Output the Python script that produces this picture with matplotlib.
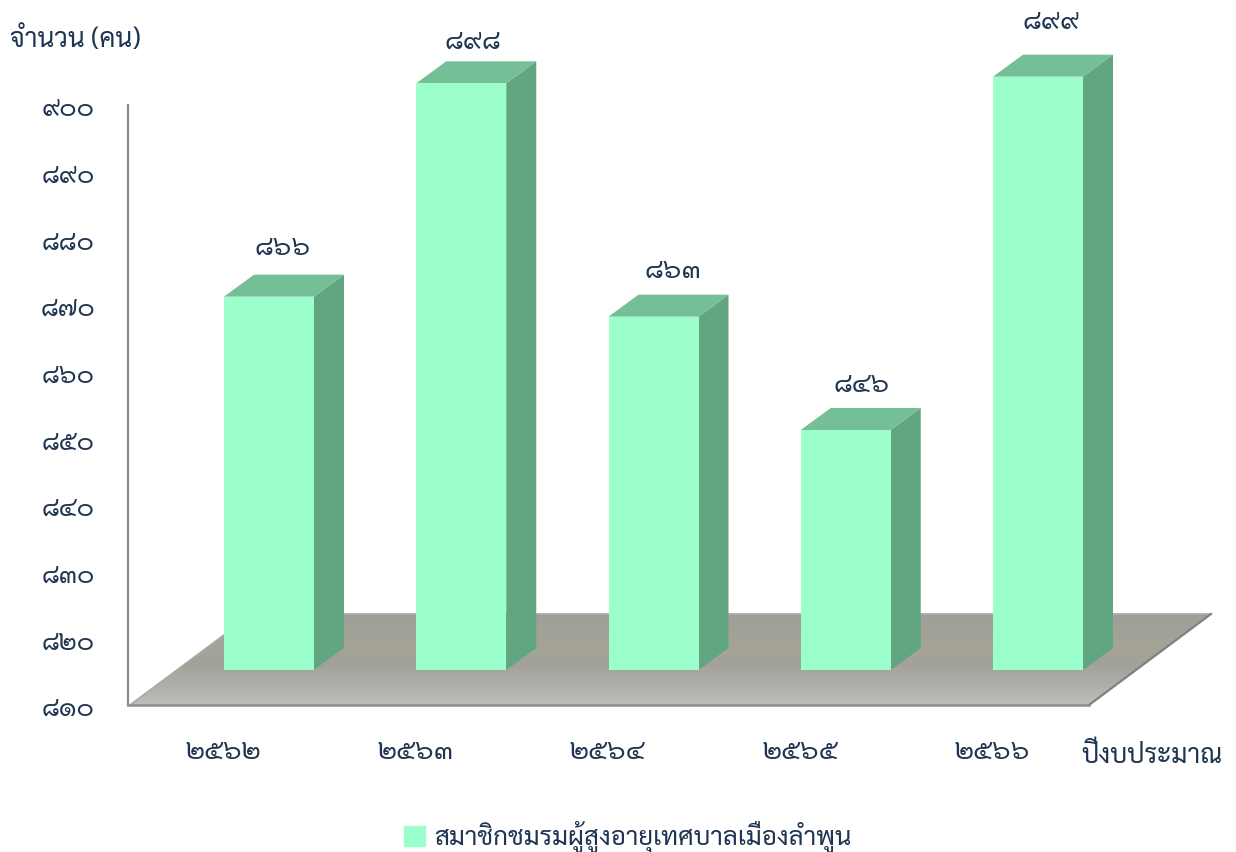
import numpy as np
import matplotlib
matplotlib.use('Agg')
import matplotlib.pyplot as plt
from matplotlib.patches import Polygon, Patch
from matplotlib import transforms

# ---- data ----
categories = ['๒๕๖๒', '๒๕๖๓', '๒๕๖๔', '๒๕๖๕', '๒๕๖๖']
members = [866, 898, 863, 846, 899]
member_labels = ['๘๖๖', '๘๙๘', '๘๖๓', '๘๔๖', '๘๙๙']
y_ticks = [810, 820, 830, 840, 850, 860, 870, 880, 890, 900]
y_tick_labels = ['๘๑๐', '๘๒๐', '๘๓๐', '๘๔๐', '๘๕๐', '๘๖๐', '๘๗๐', '๘๘๐', '๘๙๐', '๙๐๐']
series_name = 'สมาชิกชมรมผู้สูงอายุเทศบาลเมืองลำพูน'
y_title = 'จำนวน (คน)'
x_title = 'ปีงบประมาณ'

# ---- style ----
W, H = 1236, 852
FONT = ['Sarabun', 'DejaVu Sans']
TXT = '#1f3552'
FRONT, TOP, SIDE = '#9BFFCB', '#74BF98', '#62A581'
plt.rcParams['font.family'] = FONT

fig = plt.figure(figsize=(W / 100, H / 100), dpi=100, facecolor='white')
L, R, T, B = 128, 1089, 105, 705
ax = fig.add_axes([L / W, 1 - B / H, (R - L) / W, (B - T) / H])
ax.set_facecolor('none')
pitch = 192.25
first = 269
ax.set_xlim((L - first) / pitch, (R - first) / pitch)
ax.set_ylim(810, 900)
ppu = (B - T) / 90


def px_x(p):
    return p / pitch


def px_y(p):
    return p / ppu


def shift_px(dx, dy):
    return transforms.ScaledTranslation(dx / fig.dpi, dy / fig.dpi, fig.dpi_scale_trans)


# floor
fdx, fdy = px_x(122), px_y(91)
x0, x1 = ax.get_xlim()
floor_pts = [(x0 + px_x(2), 810), (x1, 810), (x1 + fdx, 810 + fdy), (x0 + px_x(124), 810 + fdy)]
XX, YY = np.meshgrid(np.linspace(0, 1, 200), np.linspace(0, 1, 80))
base = 0.62 + 0.12 * np.clip((0.45 - YY) / 0.45, 0, 1)
rgb = np.dstack([base, base, base - 0.015])
tan = np.exp(-((YY - 0.62) / 0.28) ** 2)
rgb[..., 0] += 0.025 * tan
rgb[..., 1] += 0.02 * tan
rgb[..., 2] -= 0.01 * tan
im = ax.imshow(np.clip(rgb, 0, 1), origin='lower', aspect='auto', zorder=1,
               extent=(x0, x1 + fdx, 810, 810 + fdy))
ax.set_xlim(x0, x1)
ax.set_ylim(810, 900)
floor = Polygon(floor_pts, closed=True, facecolor='none', edgecolor='none', transform=ax.transData)
ax.add_patch(floor)
floor.set_clip_on(False)
im.set_clip_box(fig.bbox)
im.set_clip_path(floor)
ax.plot([floor_pts[0][0], floor_pts[3][0], floor_pts[2][0]],
        [floor_pts[0][1], floor_pts[3][1], floor_pts[2][1]],
        color='#a9a9a9', lw=1.2, zorder=2, clip_on=False)
ax.plot([floor_pts[1][0], floor_pts[2][0]], [floor_pts[1][1], floor_pts[2][1]],
        color='#808080', lw=1.6, zorder=2, clip_on=False)

# bars: front plane sits above the floor's front edge
tr = ax.transData + shift_px(0, 35)
xs = np.arange(len(categories))
bw = 90 / pitch
ddx, ddy = px_x(30), px_y(22)
for x, v in zip(xs, members):
    l, r = x - bw / 2, x + bw / 2
    ax.add_patch(Polygon([(r, 810), (r + ddx, 810 + ddy), (r + ddx, v + ddy), (r, v)],
                         closed=True, fc=SIDE, ec='none', transform=tr, zorder=3, clip_on=False))
    ax.add_patch(Polygon([(l, v), (r, v), (r + ddx, v + ddy), (l + ddx, v + ddy)],
                         closed=True, fc=TOP, ec='none', transform=tr, zorder=3, clip_on=False))
ax.bar(xs, np.array(members) - 810, bottom=810, width=bw, color=FRONT, transform=tr,
       zorder=4, clip_on=False, label=series_name)

# value labels
label_dx = [14, 12, 19, 16, 13]
label_dy = [49, 41, 46, 45, 55]
for x, v, s, ox, oy in zip(xs, members, member_labels, label_dx, label_dy):
    ax.annotate(s, (x, v), xycoords=tr, xytext=(ox * 0.72, oy * 0.72), textcoords='offset points',
                ha='center', va='center', fontsize=20, color=TXT, annotation_clip=False, zorder=5)

# axes
for s in ('top', 'right', 'bottom'):
    ax.spines[s].set_visible(False)
ax.spines['left'].set_color('#8c8c8c')
ax.spines['left'].set_linewidth(1.6)
ax.plot([x0, x1], [810, 810], color='#8c8c8c', lw=1.8, zorder=2, clip_on=False)
ax.set_yticks(y_ticks, y_tick_labels, fontsize=19, color=TXT)
ax.set_xticks(xs, categories, fontsize=20, color=TXT)
ax.tick_params(axis='y', length=0, pad=43)
ax.tick_params(axis='x', length=0, pad=24)
for t in ax.get_yticklabels():
    t.set_ha('center')
    t.set_transform(t.get_transform() + shift_px(0, -1))
for t in ax.get_xticklabels():
    t.set_transform(t.get_transform() + shift_px(-46, 0))

fig.text(10 / W, 1 - 40 / H, y_title, fontsize=19, color=TXT, ha='left', va='center')
fig.text(1081 / W, 1 - 756 / H, x_title, fontsize=19, color=TXT, ha='left', va='center')

ax.legend(handles=[Patch(color=FRONT, label=series_name)], loc='center',
          bbox_to_anchor=(628 / W, 1 - 837 / H), bbox_transform=fig.transFigure,
          frameon=False, fontsize=18.6, labelcolor=TXT, handlelength=0.8, handleheight=0.8,
          handletextpad=0.35, borderpad=0)

fig.savefig('out.png', dpi=100)
